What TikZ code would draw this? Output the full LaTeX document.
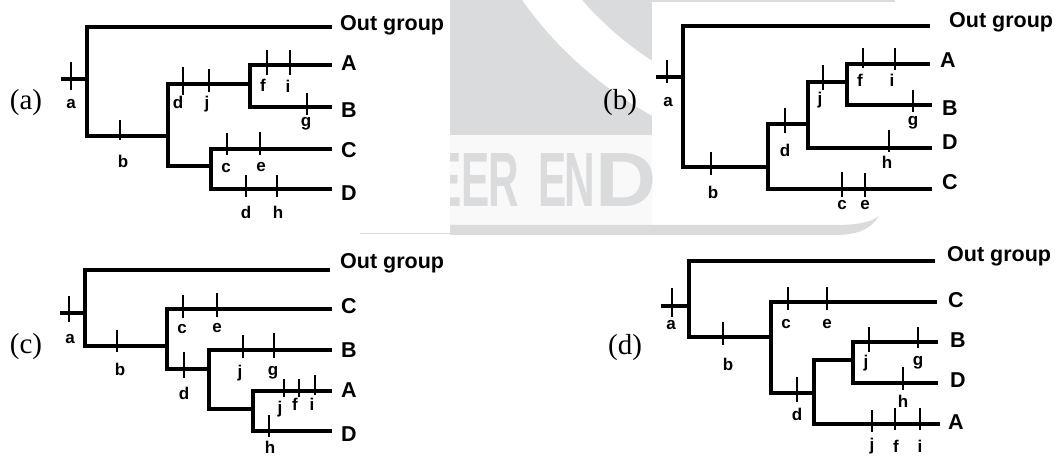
\documentclass[tikz,border=0pt]{standalone}
\usepackage{fontspec}
\newfontfamily\labfont{Liberation Sans}
\newfontfamily\panelfont{Liberation Serif}
\newfontfamily\wmfont{Liberation Sans}
\definecolor{wm}{RGB}{218,219,220}
\definecolor{wmlight}{RGB}{249,249,249}
\newcommand\tmark[7]{\draw[tk] (#2,#3) -- (#2,#4); \node[lab] (#1) at (#5,#6) {#7};}
\begin{document}
\begin{tikzpicture}[x=1pt,y=-1pt,
  br/.style={line width=3.3pt, line cap=rect, line join=miter},
  tk/.style={line width=1.8pt},
  lab/.style={inner sep=0pt, font=\labfont\bfseries\fontsize{17}{17}\selectfont},
  tip/.style={anchor=west, inner sep=0pt, font=\labfont\bfseries\fontsize{21.5}{22}\selectfont},
  pan/.style={inner sep=0pt, font=\panelfont\fontsize{29}{29}\selectfont},
  wml/.style={anchor=base west, inner sep=0pt, text=wm, font=\wmfont\bfseries\fontsize{77}{77}\selectfont}]
\useasboundingbox (0,0) rectangle (1055,457);
% ---------- watermark ----------
\fill[wm] (450,0) rectangle (652,135);
\begin{scope}
  \clip (450,0) rectangle (652,135);
  \fill[white,even odd rule] (835,-221) circle[radius=383pt] (835,-221) circle[radius=336pt];
\end{scope}
\fill[wmlight] (450,135) rectangle (652,225);
\begin{scope}
  \clip (450,135) rectangle (652,225);
  \node[wml] (w1) at (433,207) {\scalebox{0.55}[1]{E}};
  \node[wml] (w2) at (461,207) {\scalebox{0.55}[1]{E}};
  \node[wml] (w3) at (488,207) {\scalebox{0.55}[1]{R}};
  \node[wml] (w4) at (538,207) {\scalebox{0.55}[1]{E}};
  \node[wml] (w5) at (564,207) {\scalebox{0.55}[1]{N}};
  \node[wml] (w6) at (595,207) {\scalebox{1.1}[1]{D}};
\end{scope}
\fill[wm] (450,225) -- (835,225) .. controls (858,225) and (871,222) .. (879,216)
  .. controls (871,229) and (858,235) .. (835,235) -- (450,235) -- cycle;
\fill[wm] (652,0) rectangle (895,2.5);
\draw[wm, line width=0.8pt] (360,233) -- (450,233);
% ---------- panel (a) ----------
\node[pan] (pa) at (26,103) {(a)};
\coordinate (a-s) at (63,79);  \coordinate (a-m) at (87,79);
\coordinate (a-t) at (87,27);  \coordinate (a-O) at (330,27);
\coordinate (a-r) at (87,136); \coordinate (a-x) at (168,136);
\coordinate (a-xt) at (168,84); \coordinate (a-xb) at (168,166);
\coordinate (a-y) at (250,84); \coordinate (a-yt) at (250,65); \coordinate (a-yb) at (250,107);
\coordinate (a-A) at (330,65); \coordinate (a-B) at (330,107);
\coordinate (a-z) at (211,166); \coordinate (a-zt) at (211,149); \coordinate (a-zb) at (211,189);
\coordinate (a-C) at (330,149); \coordinate (a-D) at (330,189);
\draw[br] (a-s) -- (a-m);
\draw[br] (a-O) -- (a-t) -- (a-r) -- (a-x);
\draw[br] (a-xt) -- (a-xb);
\draw[br] (a-xt) -- (a-y);
\draw[br] (a-yt) -- (a-yb);
\draw[br] (a-yt) -- (a-A);
\draw[br] (a-yb) -- (a-B);
\draw[br] (a-xb) -- (a-z);
\draw[br] (a-zt) -- (a-zb);
\draw[br] (a-zt) -- (a-C);
\draw[br] (a-zb) -- (a-D);
\node[tip] (a-lO) at (340,25) {Out group};
\node[tip] (a-lA) at (341,63) {A};
\node[tip] (a-lB) at (341,110) {B};
\node[tip] (a-lC) at (341,150) {C};
\node[tip] (a-lD) at (341,193) {D};
\tmark{a-ta}{71}{62}{90}{71}{104}{a}
\tmark{a-tb}{120}{120}{140}{123}{161}{b}
\tmark{a-td}{183}{67}{95}{178}{102}{d}
\tmark{a-tj}{209}{69}{92}{207}{104}{j}
\tmark{a-tf}{267}{50}{75}{263}{85}{f}
\tmark{a-ti}{290}{50}{75}{288}{86}{i}
\tmark{a-tg}{307}{93}{115}{306}{124}{g}
\tmark{a-tc}{227}{133}{155}{226}{168}{c}
\tmark{a-te}{260}{132}{155}{261}{167}{e}
\tmark{a-td2}{246}{175}{197}{246}{212}{d}
\tmark{a-th}{277}{175}{197}{278}{212}{h}
% ---------- panel (b) ----------
\node[pan] (pb) at (620,103) {(b)};
\coordinate (b-s) at (658,77);  \coordinate (b-m) at (683,77);
\coordinate (b-t) at (683,26);  \coordinate (b-O) at (928,26);
\coordinate (b-r) at (683,167); \coordinate (b-x) at (768,167);
\coordinate (b-xt) at (768,124); \coordinate (b-xb) at (768,189);
\coordinate (b-y) at (808,124); \coordinate (b-yt) at (808,82); \coordinate (b-yb) at (808,148);
\coordinate (b-z) at (847,82); \coordinate (b-zt) at (847,64); \coordinate (b-zb) at (847,105);
\coordinate (b-A) at (928,64); \coordinate (b-B) at (930,105);
\coordinate (b-D) at (930,148); \coordinate (b-C) at (930,189);
\draw[br] (b-s) -- (b-m);
\draw[br] (b-O) -- (b-t) -- (b-r) -- (b-x);
\draw[br] (b-xt) -- (b-xb);
\draw[br] (b-xt) -- (b-y);
\draw[br] (b-yt) -- (b-yb);
\draw[br] (b-yt) -- (b-z);
\draw[br] (b-zt) -- (b-zb);
\draw[br] (b-zt) -- (b-A);
\draw[br] (b-zb) -- (b-B);
\draw[br] (b-yb) -- (b-D);
\draw[br] (b-xb) -- (b-C);
\node[tip] (b-lO) at (949,22) {Out group};
\node[tip] (b-lA) at (940,60) {A};
\node[tip] (b-lB) at (942,108) {B};
\node[tip] (b-lD) at (942,142) {D};
\node[tip] (b-lC) at (942,182) {C};
\tmark{b-ta}{667}{60}{83}{668}{102}{a}
\tmark{b-tb}{711}{152}{175}{713}{192}{b}
\tmark{b-td}{785}{108}{133}{785}{150}{d}
\tmark{b-tj}{823}{65}{90}{820}{100}{j}
\tmark{b-tf}{863}{48}{68}{860}{80}{f}
\tmark{b-ti}{895}{48}{70}{892}{80}{i}
\tmark{b-tg}{913}{90}{112}{913}{123}{g}
\tmark{b-th}{889}{130}{152}{887}{162}{h}
\tmark{b-tc}{842}{172}{197}{842}{205}{c}
\tmark{b-te}{865}{173}{197}{865}{205}{e}
% ---------- panel (c) ----------
\node[pan] (pc) at (26,347) {(c)};
\coordinate (c-s) at (62,313);  \coordinate (c-m) at (85,313);
\coordinate (c-t) at (85,270);  \coordinate (c-O) at (328,270);
\coordinate (c-r) at (85,346); \coordinate (c-x) at (167,346);
\coordinate (c-xt) at (167,309); \coordinate (c-xb) at (167,369);
\coordinate (c-C) at (330,309);
\coordinate (c-y) at (209,369); \coordinate (c-yt) at (209,350); \coordinate (c-yb) at (209,409);
\coordinate (c-B) at (330,350);
\coordinate (c-z) at (253,409); \coordinate (c-zt) at (253,391); \coordinate (c-zb) at (253,431);
\coordinate (c-A) at (330,391); \coordinate (c-D) at (330,431);
\draw[br] (c-s) -- (c-m);
\draw[br] (c-O) -- (c-t) -- (c-r) -- (c-x);
\draw[br] (c-xt) -- (c-xb);
\draw[br] (c-xt) -- (c-C);
\draw[br] (c-xb) -- (c-y);
\draw[br] (c-yt) -- (c-yb);
\draw[br] (c-yt) -- (c-B);
\draw[br] (c-yb) -- (c-z);
\draw[br] (c-zt) -- (c-zb);
\draw[br] (c-zt) -- (c-A);
\draw[br] (c-zb) -- (c-D);
\node[tip] (c-lO) at (340,263) {Out group};
\node[tip] (c-lC) at (341,306) {C};
\node[tip] (c-lB) at (341,350) {B};
\node[tip] (c-lA) at (341,390) {A};
\node[tip] (c-lD) at (341,434) {D};
\tmark{c-ta}{69}{296}{322}{70}{339}{a}
\tmark{c-tb}{117}{330}{352}{120}{369}{b}
\tmark{c-tc}{183}{295}{318}{182}{329}{c}
\tmark{c-te}{217}{293}{317}{217}{328}{e}
\tmark{c-td}{184}{352}{378}{184}{393}{d}
\tmark{c-tj}{243}{335}{358}{240}{373}{j}
\tmark{c-tg}{274}{333}{358}{273}{373}{g}
\tmark{c-tj2}{284}{379}{397}{280}{409}{j}
\tmark{c-tf}{299}{379}{397}{295}{404}{f}
\tmark{c-ti}{315}{375}{395}{312}{404}{i}
\tmark{c-th}{269}{415}{437}{270}{447}{h}
% ---------- panel (d) ----------
\node[pan] (pd) at (625,348) {(d)};
\coordinate (d-s) at (663,306);  \coordinate (d-m) at (689,306);
\coordinate (d-t) at (689,261);  \coordinate (d-O) at (933,261);
\coordinate (d-r) at (689,337); \coordinate (d-x) at (771,337);
\coordinate (d-xt) at (771,302); \coordinate (d-xb) at (771,393);
\coordinate (d-C) at (935,302);
\coordinate (d-y) at (814,393); \coordinate (d-yt) at (814,360); \coordinate (d-yb) at (814,424);
\coordinate (d-z) at (853,360); \coordinate (d-zt) at (853,342); \coordinate (d-zb) at (853,383);
\coordinate (d-B) at (936,342); \coordinate (d-D) at (936,383); \coordinate (d-A) at (938,424);
\draw[br] (d-s) -- (d-m);
\draw[br] (d-O) -- (d-t) -- (d-r) -- (d-x);
\draw[br] (d-xt) -- (d-xb);
\draw[br] (d-xt) -- (d-C);
\draw[br] (d-xb) -- (d-y);
\draw[br] (d-yt) -- (d-yb);
\draw[br] (d-yt) -- (d-z);
\draw[br] (d-zt) -- (d-zb);
\draw[br] (d-zt) -- (d-B);
\draw[br] (d-zb) -- (d-D);
\draw[br] (d-yb) -- (d-A);
\node[tip] (d-lO) at (947,256) {Out group};
\node[tip] (d-lC) at (948,300) {C};
\node[tip] (d-lB) at (950,340) {B};
\node[tip] (d-lD) at (950,380) {D};
\node[tip] (d-lA) at (948,422) {A};
\tmark{d-ta}{672}{288}{317}{671}{325}{a}
\tmark{d-tb}{723}{322}{345}{728}{364}{b}
\tmark{d-tc}{788}{287}{310}{786}{324}{c}
\tmark{d-te}{827}{287}{310}{827}{324}{e}
\tmark{d-td}{797}{377}{402}{797}{414}{d}
\tmark{d-tj}{869}{327}{352}{866}{363}{j}
\tmark{d-tg}{918}{327}{348}{918}{363}{g}
\tmark{d-th}{903}{367}{390}{903}{401}{h}
\tmark{d-tj2}{872}{410}{432}{872}{446}{j}
\tmark{d-tf}{895}{408}{430}{896}{446}{f}
\tmark{d-ti}{920}{408}{430}{920}{446}{i}
\end{tikzpicture}
\end{document}
